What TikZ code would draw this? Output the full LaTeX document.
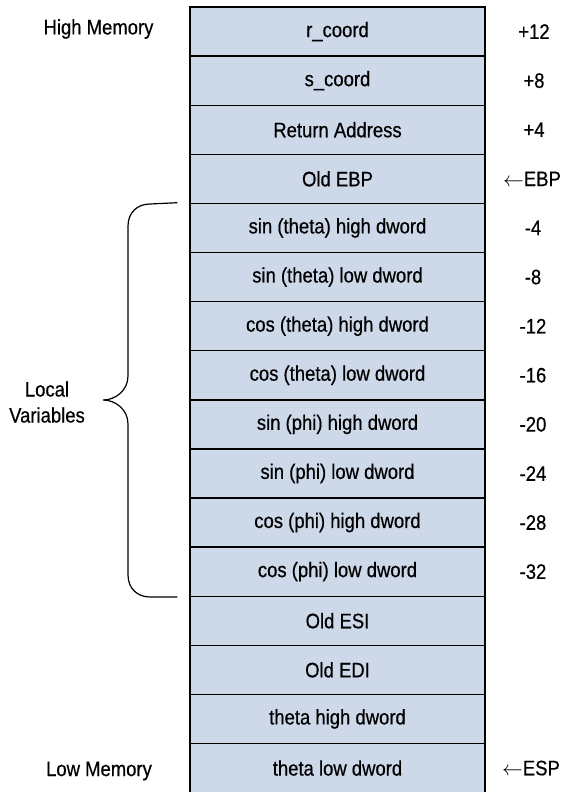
\documentclass[tikz,border=0pt]{standalone}
\usepackage{fontspec}
\setmainfont{Liberation Sans}[FakeStretch=0.88,FakeBold=0.5]
\begin{document}
\begin{tikzpicture}[x=1pt,y=-1pt,
  cell/.style={draw=black, line width=1.4pt, fill=cellblue, minimum width=295pt, minimum height=49.1pt, inner sep=0pt, font=\fontsize{21}{24}\selectfont},
  lbl/.style={font=\fontsize{21}{24}\selectfont, inner sep=0pt},
  brace/.style={draw=black, line width=1.2pt}]
\definecolor{cellblue}{HTML}{CDD8E9}
\useasboundingbox (0,0) rectangle (562,792);
\foreach \t [count=\i from 0] in {r\_coord, s\_coord, Return Address, Old EBP,
  sin (theta) high dword, sin (theta) low dword, cos (theta) high dword, cos (theta) low dword,
  sin (phi) high dword, sin (phi) low dword, cos (phi) high dword, cos (phi) low dword,
  Old ESI, Old EDI, theta high dword, theta low dword}{
  \node[cell] (r\i) at (337.5, {7+49.1*(\i+0.5)}) {\t};
}
% offsets
\foreach \o [count=\i from 0] in {+12,+8,+4}{
  \node[lbl] (o\i) at (534, {7+49.1*(\i+0.5)}) {\o};
}
\node[lbl] (ebp) at (532, {7+49.1*3.5}) {$\leftarrow$EBP};
\foreach \o [count=\i from 4] in {-4,-8,-12,-16,-20,-24,-28,-32}{
  \node[lbl] (o\i) at (533, {7+49.1*(\i+0.5)}) {\o};
}
\node[lbl] (esp) at (531, {7+49.1*15.5}) {$\leftarrow$ESP};
% side labels
\node[lbl] (high) at (98.5, 29) {High Memory};
\node[lbl] (low) at (99, 771) {Low Memory};
\node[lbl, align=center, font=\fontsize{21}{26}\selectfont] (local) at (47, 402) {Local\\Variables};
% brace
\coordinate (bt) at ([xshift=-12pt]r4.north west);
\coordinate (bb) at ([xshift=-12pt]r11.south west);
\coordinate (tip) at (103, 400);
\draw[brace] (bt) -- (150,204) .. controls (137,204) and (128,213) .. (128,226)
  -- (128,376) .. controls (128,390) and (116,400) .. (tip)
  .. controls (116,400) and (128,410) .. (128,424)
  -- (128,575) .. controls (128,588) and (137,597) .. (150,597) -- (bb);
\end{tikzpicture}
\end{document}
